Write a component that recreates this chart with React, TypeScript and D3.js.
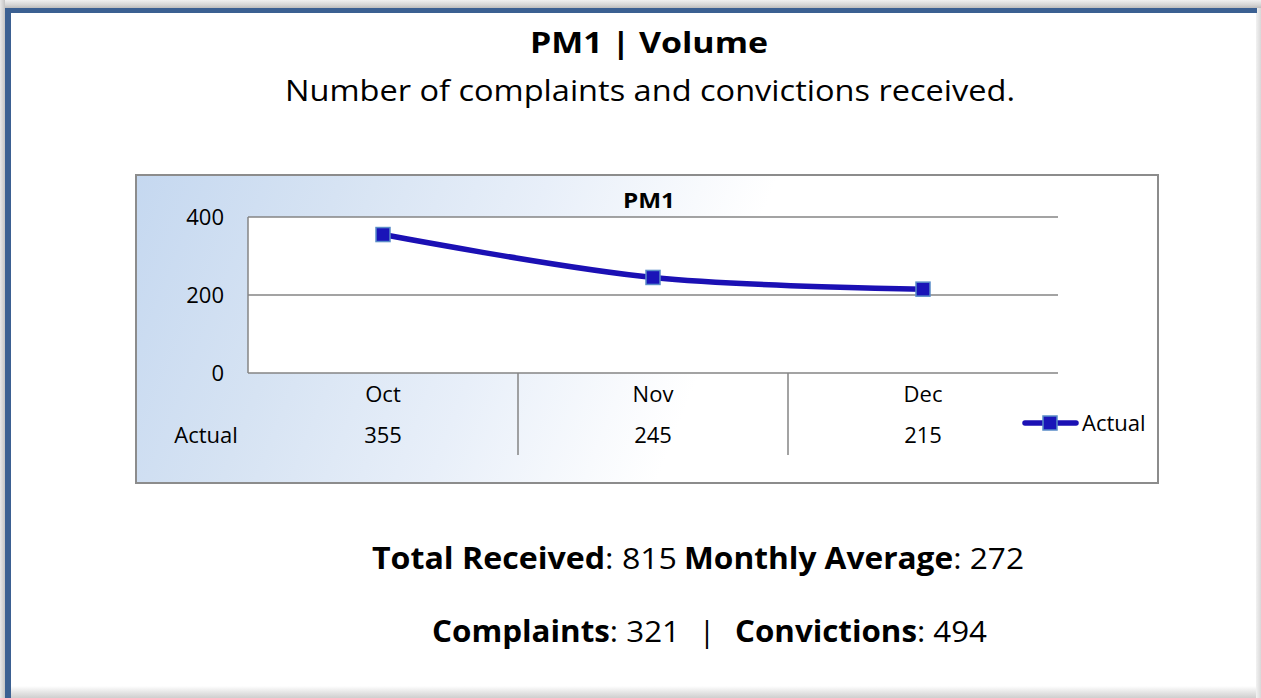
import React from 'react';
import * as d3 from 'd3';

// ---- data ----
const months: string[] = ['Oct', 'Nov', 'Dec'];
const actual: number[] = [355, 245, 215];
const seriesName = 'Actual';
const yTicks: number[] = [0, 200, 400];
const pageTitle = 'PM1 | Volume';
const pageSubtitle = 'Number of complaints and convictions received.';
const chartTitle = 'PM1';
const summaryLabels1: string[] = ['Total Received', 'Monthly Average'];
const summaryValues1: number[] = [815, 272];
const summaryLabels2: string[] = ['Complaints', 'Convictions'];
const summaryValues2: number[] = [321, 494];

const W = 1261;
const H = 698;
const FONT = "'Open Sans', 'DejaVu Sans', sans-serif";

type Seg = { label: string; value: number; x: number; w: number };

function LabelValue({ seg, y, size }: { seg: Seg; y: number; size: number }) {
  return (
    <text x={seg.x} y={y} fontSize={size} fill="#000" textLength={seg.w} lengthAdjust="spacingAndGlyphs">
      <tspan fontWeight="bold">{seg.label}</tspan>
      <tspan>{`: ${seg.value}`}</tspan>
    </text>
  );
}

export default function App() {
  const x = d3.scaleBand<string>().domain(months).range([248, 1058]).padding(0);
  const y = d3.scaleLinear().domain([0, 400]).range([373, 217]);
  const cx = (m: string) => (x(m) as number) + x.bandwidth() / 2;

  const line = d3
    .line<number>()
    .x((_, i) => cx(months[i]))
    .y((d) => y(d))
    .curve(d3.curveCatmullRom.alpha(0.5));

  const lineColor = '#1b10b4';
  const markerFill = '#1a14b8';
  const markerStroke = '#5a8cc8';
  const ms = 14;

  const plotL = x.range()[0];
  const plotR = x.range()[1];
  const plotT = y(400);
  const plotB = y(0);

  const seps = months.slice(1).map((m) => x(m) as number);

  const row1: Seg[] = [
    { label: summaryLabels1[0], value: summaryValues1[0], x: 372, w: 305 },
    { label: summaryLabels1[1], value: summaryValues1[1], x: 684, w: 340 },
  ];
  const row2: Seg[] = [
    { label: summaryLabels2[0], value: summaryValues2[0], x: 432, w: 248 },
    { label: summaryLabels2[1], value: summaryValues2[1], x: 735, w: 252 },
  ];

  return (
    <svg
      width={W}
      height={H}
      viewBox={`0 0 ${W} ${H}`}
      style={{ position: 'absolute', left: 0, top: 0, display: 'block' }}
      fontFamily={FONT}
    >
      <defs>
        <linearGradient id="topShade" x1="0" y1="0" x2="0" y2="1">
          <stop offset="0" stopColor="#f0f0f0" />
          <stop offset="0.6" stopColor="#d6d6d6" />
          <stop offset="1" stopColor="#bdbdbd" />
        </linearGradient>
        <linearGradient id="botShade" x1="0" y1="0" x2="0" y2="1">
          <stop offset="0" stopColor="#ffffff" />
          <stop offset="0.5" stopColor="#e6e6e6" />
          <stop offset="1" stopColor="#cfcfcf" />
        </linearGradient>
        <linearGradient id="rightShade" x1="0" y1="0" x2="1" y2="0">
          <stop offset="0" stopColor="#f2f2f2" />
          <stop offset="1" stopColor="#d8d8d8" />
        </linearGradient>
        <linearGradient id="leftShade" x1="0" y1="0" x2="1" y2="0">
          <stop offset="0" stopColor="#e8e8e8" />
          <stop offset="1" stopColor="#c4c4c4" />
        </linearGradient>
        <linearGradient id="chartBg" x1="0" y1="0" x2="1" y2="0.12">
          <stop offset="0" stopColor="#c5d8f0" />
          <stop offset="0.2" stopColor="#d6e3f3" />
          <stop offset="0.4" stopColor="#e8eff9" />
          <stop offset="0.55" stopColor="#f8fafd" />
          <stop offset="0.62" stopColor="#ffffff" />
          <stop offset="1" stopColor="#ffffff" />
        </linearGradient>
      </defs>

      {/* page frame */}
      <rect x={0} y={0} width={W} height={H} fill="#ffffff" />
      <rect x={0} y={0} width={W} height={8} fill="url(#topShade)" />
      <rect x={0} y={0} width={5} height={H} fill="url(#leftShade)" />
      <rect x={1256} y={8} width={5} height={H - 8} fill="url(#rightShade)" />
      <rect x={11} y={686} width={1245} height={12} fill="url(#botShade)" />
      <rect x={5} y={8} width={1252} height={5} fill="#3b6092" />
      <rect x={5} y={8} width={6} height={H - 8} fill="#3b6092" />

      {/* page title */}
      <text
        x={530}
        y={53}
        fontSize={29}
        fontWeight="bold"
        fill="#000"
        textLength={238}
        lengthAdjust="spacingAndGlyphs"
      >
        {pageTitle}
      </text>
      <text
        x={285}
        y={101}
        fontSize={30}
        fill="#000"
        textLength={730}
        lengthAdjust="spacingAndGlyphs"
      >
        {pageSubtitle}
      </text>

      {/* chart box */}
      <rect x={136} y={175} width={1022} height={308} fill="url(#chartBg)" stroke="#8c8c8c" strokeWidth={2} />
      <rect x={plotL} y={plotT} width={plotR - plotL} height={plotB - plotT} fill="#ffffff" />

      <text
        x={623}
        y={208}
        fontSize={21}
        fontWeight="bold"
        fill="#000"
        textLength={52}
        lengthAdjust="spacingAndGlyphs"
      >
        {chartTitle}
      </text>

      {/* gridlines */}
      {yTicks.map((t) => (
        <line key={'g' + t} x1={plotL} x2={plotR} y1={y(t)} y2={y(t)} stroke="#858585" strokeWidth={1.5} />
      ))}
      <line x1={plotL} x2={plotL} y1={plotT} y2={plotB} stroke="#858585" strokeWidth={1.5} />

      {/* y tick labels */}
      {yTicks.map((t) => (
        <text key={'t' + t} x={224} y={y(t) + 8} fontSize={22} textAnchor="end" fill="#000">
          {t}
        </text>
      ))}

      {/* data table */}
      {seps.map((sx, i) => (
        <line key={'s' + i} x1={sx} x2={sx} y1={plotB} y2={455} stroke="#858585" strokeWidth={1.5} />
      ))}
      {months.map((m) => (
        <text key={'m' + m} x={cx(m)} y={402} fontSize={22} textAnchor="middle" fill="#000">
          {m}
        </text>
      ))}
      <text x={206} y={443} fontSize={22} textAnchor="middle" fill="#000">
        {seriesName}
      </text>
      {actual.map((v, i) => (
        <text key={'v' + i} x={cx(months[i])} y={443} fontSize={22} textAnchor="middle" fill="#000">
          {v}
        </text>
      ))}

      {/* series line */}
      <path d={line(actual) || ''} fill="none" stroke={lineColor} strokeWidth={5.5} strokeLinecap="round" strokeLinejoin="round" />
      {actual.map((v, i) => (
        <rect
          key={'p' + i}
          x={cx(months[i]) - ms / 2}
          y={y(v) - ms / 2}
          width={ms}
          height={ms}
          fill={markerFill}
          stroke={markerStroke}
          strokeWidth={1.5}
        />
      ))}

      {/* legend */}
      <line x1={1025} x2={1076} y1={423} y2={423} stroke={lineColor} strokeWidth={5.5} strokeLinecap="round" />
      <rect x={1050 - ms / 2} y={423 - ms / 2} width={ms} height={ms} fill={markerFill} stroke={markerStroke} strokeWidth={1.5} />
      <text x={1082} y={431} fontSize={22} fill="#000">
        {seriesName}
      </text>

      {/* summary */}
      {row1.map((s, i) => (
        <LabelValue key={'r1' + i} seg={s} y={569} size={30} />
      ))}
      {row2.map((s, i) => (
        <LabelValue key={'r2' + i} seg={s} y={642} size={30} />
      ))}
      <text x={707} y={642} fontSize={30} textAnchor="middle" fill="#000">
        |
      </text>
    </svg>
  );
}
